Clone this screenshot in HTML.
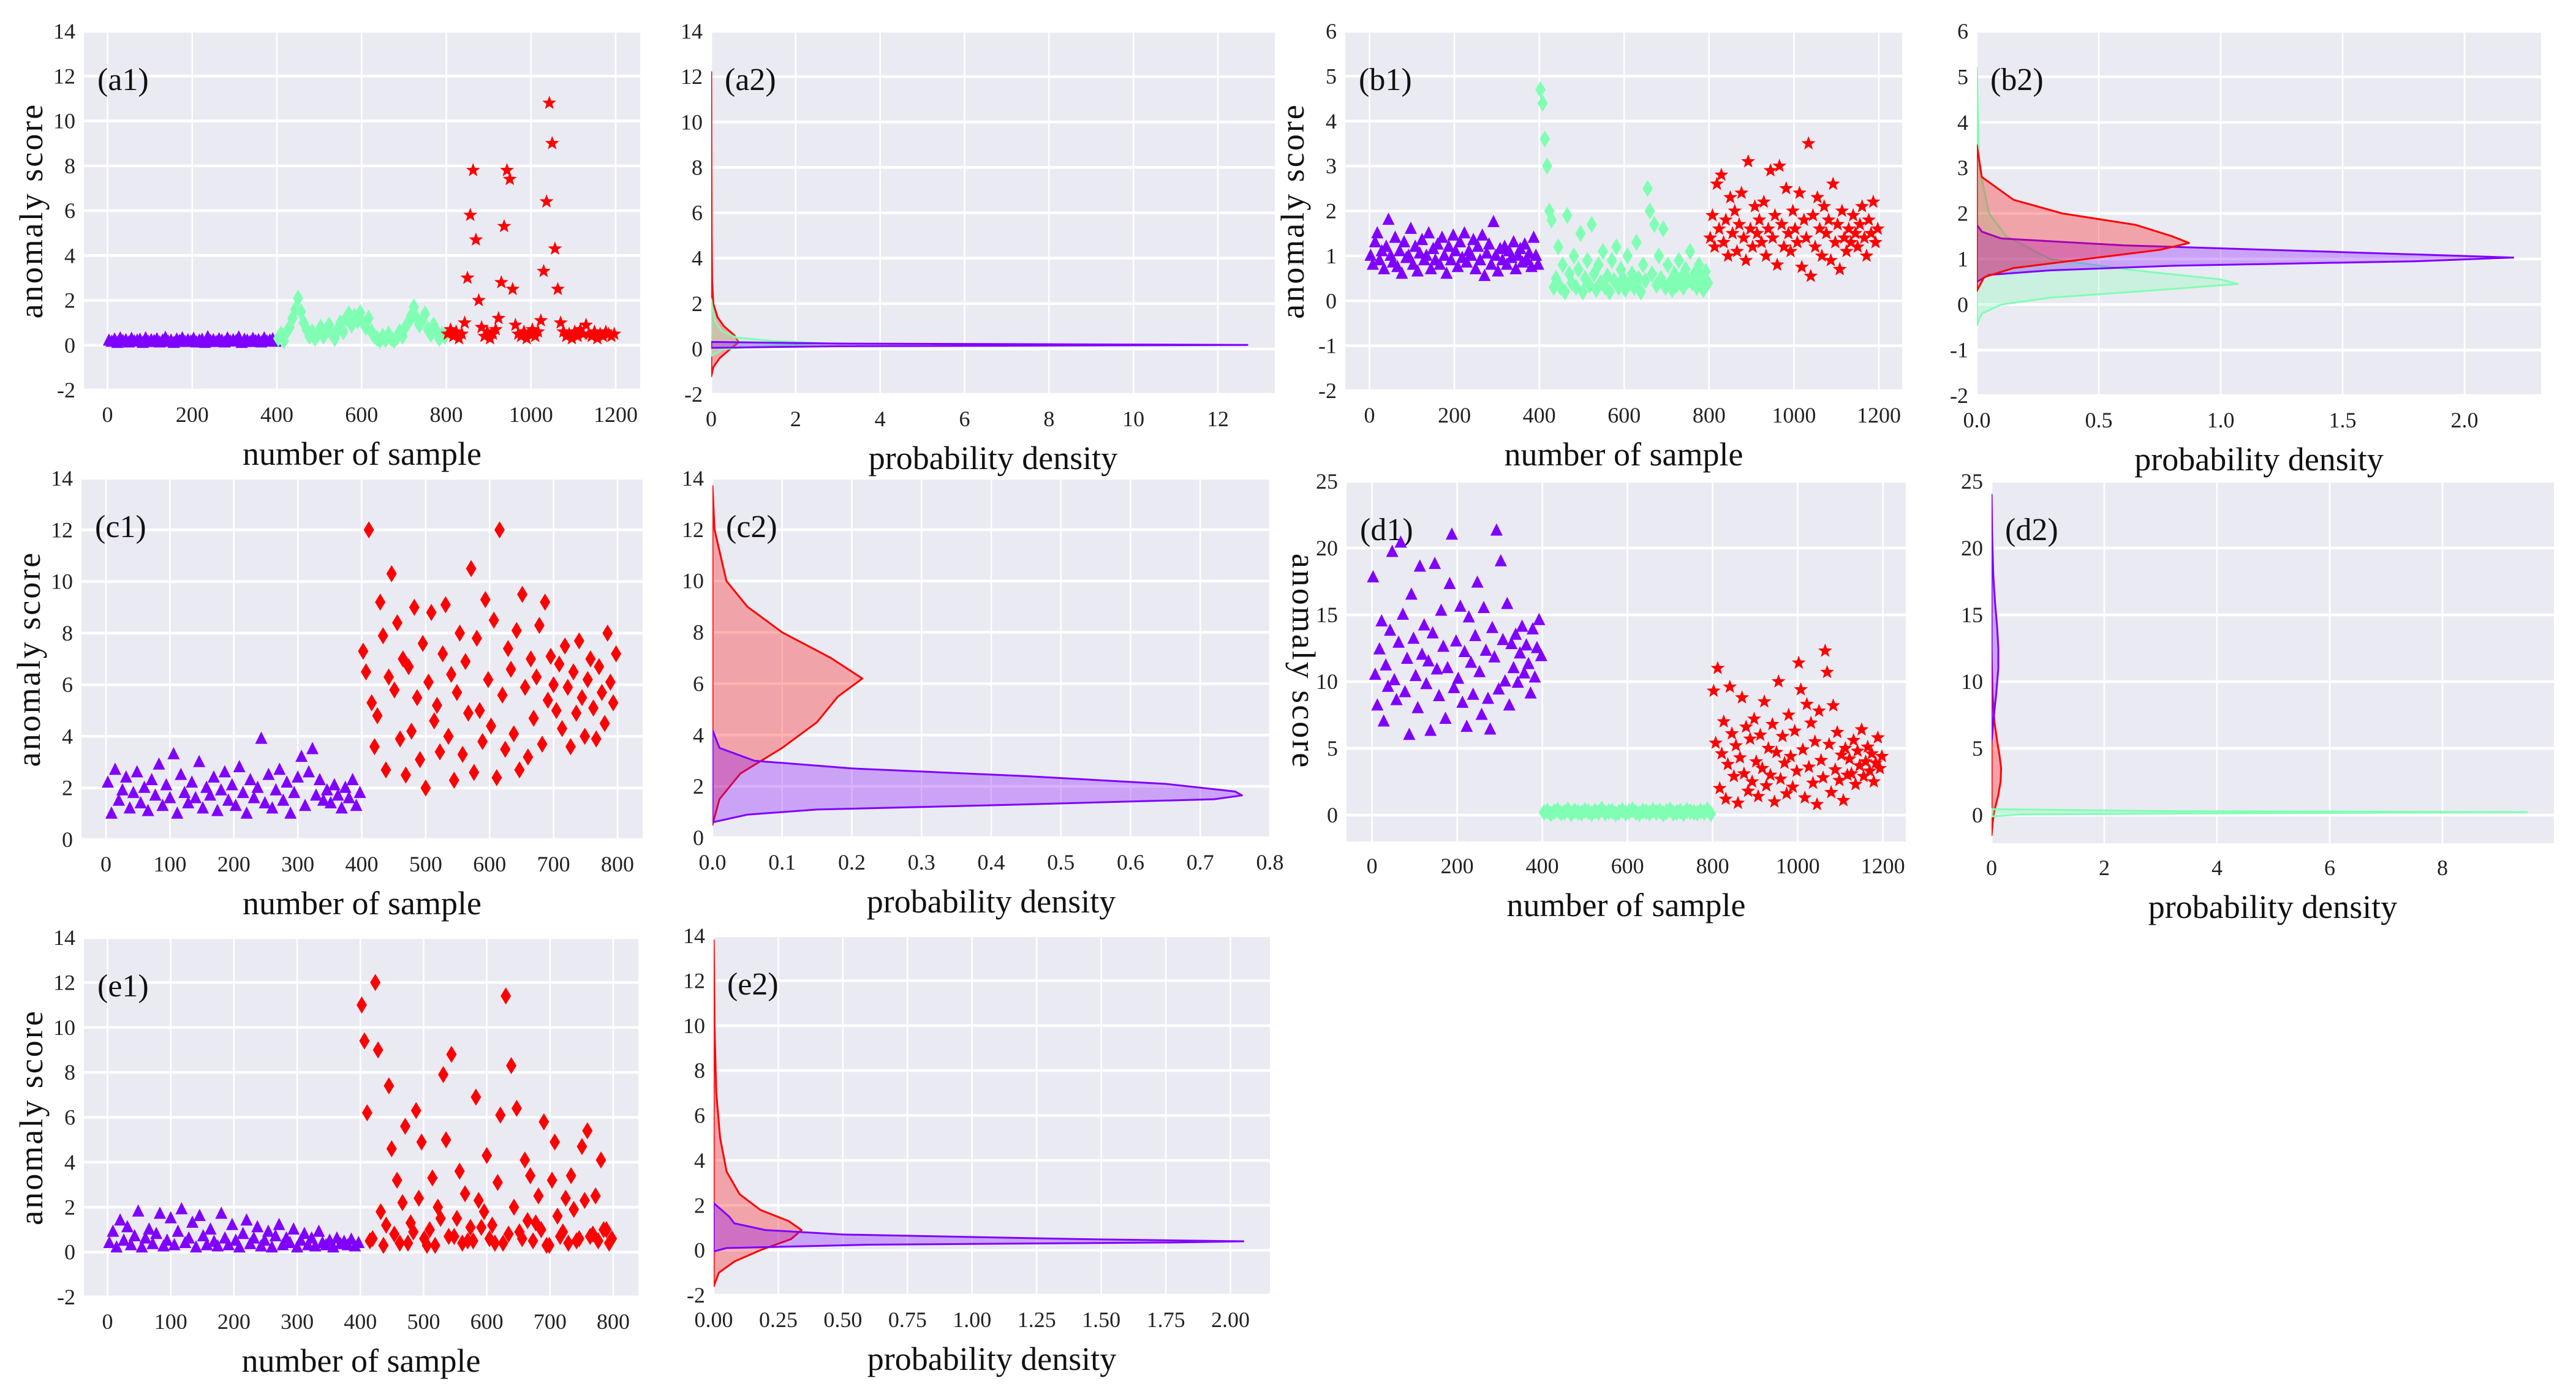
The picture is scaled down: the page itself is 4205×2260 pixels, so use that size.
<!DOCTYPE html>
<html><head><meta charset="utf-8"><style>
html,body{margin:0;padding:0;background:#fff;}
svg{display:block;font-family:"Liberation Serif",serif;}
</style></head><body>
<svg id="fig" xmlns="http://www.w3.org/2000/svg" width="4205" height="2260" viewBox="0 0 4205 2260"></svg>
<script>
// ---- scatter data (anomaly score per sample group) ----
const a1Purple=[0.2,0.15,0.25,0.1,0.3,0.18,0.22,0.12,0.28,0.16,0.2,0.24,0.1,0.3,0.14,0.22,0.18,0.26,0.12,0.2,0.32,0.15,0.2,0.1,0.25,0.18,0.3,0.14,0.22,0.16,0.28,0.12,0.2,0.24,0.1,0.35,0.18,0.22,0.14,0.26,0.2,0.12,0.3,0.16,0.22,0.18,0.34,0.1,0.24,0.2,0.14,0.28,0.18,0.22,0.12,0.3,0.16,0.2,0.26,0.15];
const a1Green=[0.3,0.5,0.2,0.6,0.8,1.2,1.6,2.1,1.5,1.0,0.7,0.4,0.6,0.3,0.5,0.8,0.4,0.6,0.9,0.5,0.3,0.7,1.0,0.6,1.2,1.4,0.9,1.3,1.1,1.45,1.0,0.8,1.2,0.6,0.4,0.3,0.2,0.4,0.25,0.5,0.3,0.2,0.35,0.6,0.4,0.8,1.0,1.3,1.7,1.2,0.9,1.1,1.4,0.7,0.5,0.9,0.6,0.3,0.5,0.4];
const a1Red=[0.5,0.7,0.4,0.6,0.3,0.5,1.0,3.0,5.8,7.8,4.7,2.0,0.8,0.4,0.6,0.3,0.5,0.7,1.2,2.8,5.3,7.8,7.4,2.5,0.9,0.5,0.4,0.6,0.3,0.5,0.7,0.4,0.6,1.1,3.3,6.4,10.8,9.0,4.3,2.5,1.0,0.6,0.4,0.5,0.3,0.6,0.4,0.7,0.5,0.9,0.5,0.4,0.6,0.3,0.5,0.4,0.6,0.5,0.4,0.5];
const b1Purple=[1.0,0.8,1.3,1.5,0.9,1.1,0.7,1.2,1.8,1.0,0.85,1.4,0.75,1.1,0.6,1.3,0.95,1.0,1.6,0.8,1.2,0.65,1.05,1.35,0.9,1.0,1.5,0.7,1.15,0.9,1.25,0.8,1.4,1.0,0.6,1.2,0.9,1.45,1.1,0.75,1.3,0.95,1.5,0.85,1.1,1.0,1.35,0.7,1.2,0.9,1.45,0.55,1.05,1.25,0.8,1.75,1.0,0.65,1.15,0.9,1.2,0.8,1.1,0.95,1.3,0.7,1.0,1.15,0.85,1.25,0.9,1.05,0.75,1.4,1.0,0.8];
const b1Green=[4.7,4.4,3.6,3.0,2.0,1.8,0.3,0.5,1.2,0.3,0.8,0.2,1.9,0.6,0.4,1.0,0.3,0.7,1.5,0.2,0.5,0.9,0.35,1.7,0.6,0.25,0.8,0.4,1.1,0.3,0.55,0.2,0.9,0.45,1.2,0.3,0.7,0.5,0.25,1.0,0.4,0.6,0.3,1.3,0.5,0.2,0.8,0.45,2.5,2.0,0.6,1.7,0.35,1.0,0.5,1.6,0.3,0.8,0.4,0.25,0.6,0.35,0.9,0.5,0.3,0.7,0.45,1.1,0.4,0.6,0.3,0.8,0.5,0.25,0.65,0.4];
const b1Red=[1.4,1.9,1.2,2.6,1.6,2.8,1.3,1.8,1.0,2.3,1.5,2.0,1.1,1.7,2.4,1.4,0.9,3.1,1.6,1.2,2.1,1.5,1.8,1.3,2.2,1.0,1.6,2.9,1.4,1.9,0.8,3.0,1.7,1.2,2.5,1.5,1.1,2.0,1.6,1.3,2.4,0.75,1.8,1.4,3.5,0.55,1.9,1.2,2.3,1.6,1.0,2.1,1.5,1.8,0.9,2.6,1.3,1.7,0.7,2.0,1.4,1.1,1.6,1.3,1.9,1.5,1.2,1.7,2.1,1.4,1.0,1.8,1.5,2.2,1.3,1.6];
const c1Purple=[2.2,1.0,2.7,1.5,1.9,2.4,1.2,1.8,2.6,1.4,2.0,1.1,2.3,1.7,2.9,1.3,2.1,1.6,3.3,1.0,2.5,1.8,1.4,2.2,1.6,3.0,1.2,2.0,1.7,2.4,1.1,1.9,2.6,1.5,2.1,1.3,2.8,1.8,1.0,2.3,1.6,2.0,3.9,1.4,2.5,1.2,1.9,2.7,1.5,2.2,1.0,1.8,2.4,3.2,1.3,2.6,3.5,1.7,2.3,1.5,1.9,1.4,2.1,1.7,1.2,2.0,1.6,2.3,1.3,1.8];
const c1Red=[7.3,6.5,12.0,5.3,3.6,4.8,9.2,7.9,2.7,6.3,10.3,5.8,8.4,3.9,7.0,2.5,6.7,4.2,9.0,5.5,3.1,7.6,2.0,6.1,8.8,4.6,5.2,3.4,7.2,9.1,4.0,6.4,2.3,5.7,8.0,3.3,6.9,4.9,10.5,2.6,7.8,5.0,3.8,9.3,6.2,4.4,8.5,2.4,12.0,5.6,3.5,7.4,6.6,4.1,8.1,2.7,9.5,5.9,3.2,7.0,4.7,6.3,8.3,3.7,9.2,5.4,7.1,6.0,5.0,6.8,4.3,7.5,5.9,3.6,6.5,4.9,7.7,5.5,4.0,6.2,7.0,5.1,3.9,6.7,5.7,4.5,8.0,6.1,5.3,7.2];
const d1Purple=[17.8,10.5,8.2,12.4,14.5,7.0,11.2,9.6,13.8,19.7,10.1,8.6,12.9,20.4,15.0,9.2,11.7,6.0,16.5,13.2,10.4,8.0,18.6,12.0,14.2,9.8,11.5,6.3,13.6,18.8,10.9,8.9,15.3,12.6,7.2,11.0,17.3,21.0,9.5,13.0,10.2,15.6,8.4,12.2,6.6,14.8,11.4,9.0,13.4,17.4,10.7,7.5,15.5,12.3,8.7,6.4,14.0,11.8,21.3,9.4,19.0,13.1,10.0,15.8,8.2,12.8,11.0,13.5,9.9,12.1,14.1,10.6,12.7,11.3,9.1,13.9,10.3,12.5,14.6,11.9];
const d1Green=[0.2,0.3,0.1,0.25,0.35,0.15,0.2,0.4,0.1,0.3,0.2,0.15,0.35,0.25,0.1,0.3,0.2,0.45,0.15,0.25,0.3,0.1,0.2,0.35,0.15,0.25,0.4,0.2,0.1,0.3,0.25,0.15,0.35,0.2,0.3,0.1,0.25,0.4,0.15,0.2,0.3,0.1,0.35,0.25,0.2,0.15,0.3,0.2,0.4,0.1];
const d1Red=[9.3,5.4,11.0,2.0,4.6,7.0,1.2,3.8,9.6,6.1,2.9,5.2,0.9,4.3,8.8,3.1,6.6,1.8,5.7,2.5,7.2,4.0,1.4,6.0,3.5,8.5,2.2,5.0,3.0,6.8,1.0,4.7,10.0,2.7,5.9,3.9,1.6,7.5,4.4,2.1,6.3,3.3,11.4,9.4,4.9,1.3,8.3,3.6,6.9,2.4,5.5,0.8,7.8,4.1,2.8,12.3,10.7,5.3,1.7,8.2,3.4,6.2,2.6,4.5,1.1,5.0,3.0,4.2,3.1,5.6,2.3,4.8,3.7,6.4,2.9,4.0,5.1,3.3,4.6,2.5,3.9,5.8,3.5,4.4];
const e1Purple=[0.4,0.9,0.2,1.4,0.5,1.1,0.3,0.7,1.8,0.2,0.6,1.0,0.35,0.8,1.7,0.25,0.5,1.5,0.3,0.9,1.9,0.4,0.6,1.3,0.2,1.6,0.7,0.3,1.0,0.45,0.25,1.7,0.6,0.3,1.2,0.5,0.2,0.8,1.4,0.35,0.6,1.1,0.25,0.5,0.9,0.2,0.7,1.2,0.3,0.6,0.4,1.0,0.2,0.5,0.8,0.3,0.6,0.25,0.9,0.4,0.3,0.5,0.2,0.6,0.35,0.45,0.3,0.55,0.25,0.4];
const e1Red=[11.0,9.4,6.2,0.5,0.6,12.0,9.0,1.8,0.3,1.2,7.4,4.6,0.8,3.2,0.4,2.2,5.6,0.4,1.3,0.9,6.3,2.4,4.9,0.6,0.3,1.0,3.3,0.3,2.0,1.5,7.9,5.0,0.7,8.8,0.7,1.5,3.6,0.4,2.6,0.5,1.1,0.5,6.9,2.3,1.1,1.8,4.3,0.6,1.2,0.4,3.1,6.1,0.4,11.4,0.8,8.3,2.0,6.4,0.9,0.6,4.1,1.4,3.4,0.5,1.3,2.5,1.0,5.8,0.3,0.3,3.2,4.9,1.6,0.7,0.9,2.4,0.4,3.4,1.9,0.5,0.6,4.7,2.3,5.4,0.7,0.8,2.5,0.5,4.1,1.0,1.0,0.4,0.6];
// ---- density (KDE) data: score levels and densities ----
const a2RedY=[-1.2,-0.8,-0.4,0,0.3,0.6,1.0,1.4,2,3,5,8,12.2];
const a2RedD=[0,0.05,0.2,0.45,0.65,0.55,0.3,0.15,0.05,0.02,0.01,0.005,0];
const a2GreenY=[-0.3,0.0,0.15,0.25,0.35,0.5,0.8,1.2,1.8,2.2];
const a2GreenD=[0,0.3,1.5,2.7,1.5,0.6,0.25,0.1,0.03,0];
const a2PurpleY=[0.05,0.12,0.18,0.24,0.31];
const a2PurpleD=[0,3,12.7,3,0];
const b2RedY=[0.3,0.6,0.8,1.0,1.2,1.35,1.5,1.75,2.0,2.3,2.8,3.5];
const b2RedD=[0,0.03,0.15,0.45,0.75,0.87,0.8,0.65,0.35,0.15,0.02,0];
const b2PurpleY=[0.5,0.65,0.75,0.85,0.95,1.03,1.15,1.3,1.45,1.6,1.75];
const b2PurpleD=[0,0.05,0.3,0.8,1.8,2.2,1.5,0.6,0.1,0.02,0];
const b2GreenY=[-0.45,-0.2,0,0.15,0.3,0.45,0.55,0.75,1.0,1.5,2,3,5.2];
const b2GreenD=[0,0.02,0.1,0.3,0.7,1.07,1.0,0.65,0.3,0.12,0.05,0.01,0];
const c2RedY=[0.5,1.5,2.5,3.5,4.5,5.5,6.2,7,8,9,10,12,13.7];
const c2RedD=[0,0.01,0.04,0.1,0.15,0.18,0.215,0.17,0.1,0.05,0.02,0.003,0];
const c2PurpleY=[0.6,0.9,1.1,1.3,1.5,1.65,1.8,2.1,2.4,2.7,3.0,3.5,4.2];
const c2PurpleD=[0,0.05,0.15,0.45,0.72,0.76,0.75,0.65,0.45,0.2,0.06,0.01,0];
const d2PurpleY=[5.5,7,9,11,12.5,14,16,18,21,24];
const d2PurpleD=[0,0.03,0.08,0.12,0.12,0.1,0.06,0.03,0.01,0];
const d2RedY=[-1.5,-0.5,0.5,1.5,2.5,3.5,4.5,5.5,7,9,11,12.5];
const d2RedD=[0,0.02,0.06,0.12,0.16,0.17,0.14,0.1,0.05,0.02,0.005,0];
const d2GreenY=[-0.1,0.05,0.15,0.22,0.3,0.45];
const d2GreenD=[0,0.5,5,9.5,3,0];
const e2RedY=[-1.6,-1,-0.5,0,0.5,0.9,1.3,1.8,2.5,3.5,5,7,10,13.8];
const e2RedD=[0,0.02,0.08,0.18,0.3,0.34,0.29,0.18,0.1,0.05,0.025,0.01,0.003,0];
const e2PurpleY=[-0.05,0.1,0.25,0.35,0.4,0.5,0.7,0.9,1.2,1.5,1.8,2.1];
const e2PurpleD=[0,0.05,0.6,1.8,2.05,1.4,0.5,0.2,0.08,0.06,0.03,0];
// ---- tick labels ----
const ticksY14=[-2,0,2,4,6,8,10,12,14];
const ticksY6=[-2,-1,0,1,2,3,4,5,6];
const ticksY14c=[0,2,4,6,8,10,12,14];
const ticksY25=[0,5,10,15,20,25];
const ticksX1200=[0,200,400,600,800,1000,1200];
const ticksX800=[0,100,200,300,400,500,600,700,800];
const ticksA2=[0,2,4,6,8,10,12];
const ticksB2=["0.0","0.5","1.0","1.5","2.0"];
const ticksC2=["0.0","0.1","0.2","0.3","0.4","0.5","0.6","0.7","0.8"];
const ticksD2=[0,2,4,6,8];
const ticksE2=["0.00","0.25","0.50","0.75","1.00","1.25","1.50","1.75","2.00"];

const NS="http://www.w3.org/2000/svg";
const svg=document.getElementById('fig');
const PURPLE="#8000ff",GREEN="#80ffb4",RED="#ff0000";
function mk(tag,attrs,parent){const e=document.createElementNS(NS,tag);for(const k in attrs)e.setAttribute(k,attrs[k]);(parent||svg).appendChild(e);return e;}
function lin(v0,p0,v1,p1){return v=>p0+(v-v0)*(p1-p0)/(v1-v0);}

function panel(name,box,xs,ys,xticks,yticks,label,xtitle,ytitleSide){
  const g=mk('g',{});
  
  
  const [L,T,R,B]=box;
  const X=lin(xs[0],xs[1],xs[2],xs[3]), Y=lin(ys[0],ys[1],ys[2],ys[3]);
  const bg=mk('rect',{x:L,y:T,width:R-L,height:B-T,fill:'#eaeaf2'},g);
  
  
  xticks.forEach(t=>{const v=parseFloat(t);const px=X(v);
    const gl=mk('line',{x1:px,x2:px,y1:T,y2:B,stroke:'#fff','stroke-width':2.5},g);
    
    
    const tx=mk('text',{x:px,y:B+52,'font-size':36,'text-anchor':'middle',fill:'#222'},g);tx.textContent=t;
    
    });
  yticks.forEach(t=>{const py=Y(t);
    const gl=mk('line',{x1:L,x2:R,y1:py,y2:py,stroke:'#fff','stroke-width':4.5},g);
    
    
    const tx=mk('text',{x:L-14,y:py+12,'font-size':36,'text-anchor':'end',fill:'#222'},g);tx.textContent=t;
    
    });
  const lb=mk('text',{x:L+22,y:T+96,'font-size':52,fill:'#111'},g);lb.textContent=label;
  
  
  const xt=mk('text',{x:(L+R)/2,y:B+122,'font-size':54,'text-anchor':'middle',fill:'#111'},g);xt.textContent=xtitle;
  
  
  if(ytitleSide){
    const cx=L-(ytitleSide==='down'?72:84), cy=(T+B)/2;
    const yt=mk('text',{x:cx,y:cy,'font-size':54,'text-anchor':'middle',fill:'#111','letter-spacing':3,
      transform:(ytitleSide==='down'?`rotate(90 ${cx} ${cy}) translate(0 16)`:`rotate(-90 ${cx} ${cy}) translate(0 16)`)},g);
    yt.textContent='anomaly score';
    
    
  }
  const clip=mk('clipPath',{id:name+'-clip'},g);mk('rect',{x:L,y:T,width:R-L,height:B-T},clip);
  const marks=mk('g',{'clip-path':`url(#${name}-clip)`},g);
  return {X,Y,g:marks};
}
function marker(p,shape,cx,cy,color){
  let e;
  if(shape==='tri'){e=mk('polygon',{points:`${cx},${cy-12} ${cx-10},${cy+8} ${cx+10},${cy+8}`,fill:color},p.g);}
  else if(shape==='dia'){e=mk('polygon',{points:`${cx},${cy-14} ${cx+8.5},${cy} ${cx},${cy+14} ${cx-8.5},${cy}`,fill:color},p.g);}
  else {let pts=[];for(let k=0;k<10;k++){const r=k%2?5:12,a=-Math.PI/2+k*Math.PI/5;pts.push((cx+r*Math.cos(a)).toFixed(1)+','+(cy+r*Math.sin(a)).toFixed(1));}
    e=mk('polygon',{points:pts.join(' '),fill:color},p.g);}
  return e;
}
function scatter(p,vals,start,span,shape,color,nm){
  vals.forEach((v,i)=>{const s=start+(i+0.5)*span/vals.length;
    const e=marker(p,shape,p.X(s),p.Y(v),color);
    
    });
}
function kde(p,ysArr,dArr,color,nm){
  let pts=[`${p.X(0)},${p.Y(ysArr[0])}`];
  ysArr.forEach((y,i)=>pts.push(`${p.X(dArr[i]).toFixed(1)},${p.Y(y).toFixed(1)}`));
  pts.push(`${p.X(0)},${p.Y(ysArr[ysArr.length-1])}`);
  const e=mk('polygon',{points:pts.join(' '),fill:color,'fill-opacity':0.3,stroke:color,'stroke-width':3,'stroke-linejoin':'round'},p.g);
  
  
}

// a1
let p=panel('a1',[137,51,1045,637],[0,175.5,1200,1005],[-2,637,14,51],ticksX1200,ticksY14,'(a1)','number of sample','up');
scatter(p,a1Purple,0,400,'tri',PURPLE,'a1-normal');scatter(p,a1Green,400,400,'dia',GREEN,'a1-group2');scatter(p,a1Red,800,400,'star',RED,'a1-anomaly');
p=panel('a2',[1161,51,2081,644],[0,1161,12,1988],[-2,644,14,51],ticksA2,ticksY14,'(a2)','probability density',null);
kde(p,a2RedY,a2RedD,RED,'a2-red');kde(p,a2GreenY,a2GreenD,GREEN,'a2-green');kde(p,a2PurpleY,a2PurpleD,PURPLE,'a2-purple');
// b
p=panel('b1',[2196,51,3105,638],[0,2235.5,1200,3067],[-2,638,6,51],ticksX1200,ticksY6,'(b1)','number of sample','up');
scatter(p,b1Purple,0,400,'tri',PURPLE,'b1-normal');scatter(p,b1Green,400,400,'dia',GREEN,'b1-group2');scatter(p,b1Red,800,400,'star',RED,'b1-anomaly');
p=panel('b2',[3227,51,4148,646],[0,3227,2,4023],[-2,646,6,51],ticksB2,ticksY6,'(b2)','probability density',null);
kde(p,b2GreenY,b2GreenD,GREEN,'b2-green');kde(p,b2PurpleY,b2PurpleD,PURPLE,'b2-purple');kde(p,b2RedY,b2RedD,RED,'b2-red');
// c
p=panel('c1',[133,781,1049,1371],[0,173,800,1008],[0,1371,14,781],ticksX800,ticksY14c,'(c1)','number of sample','up');
scatter(p,c1Purple,0,400,'tri',PURPLE,'c1-normal');scatter(p,c1Red,400,400,'dia',RED,'c1-anomaly');
p=panel('c2',[1163,781,2073,1368],[0,1163,0.8,2073],[0,1368,14,781],ticksC2,ticksY14c,'(c2)','probability density',null);
kde(p,c2RedY,c2RedD,RED,'c2-red');kde(p,c2PurpleY,c2PurpleD,PURPLE,'c2-purple');
// d
p=panel('d1',[2198,786,3111,1374],[0,2239.6,1200,3073.6],[0,1331,20,895],ticksX1200,ticksY25,'(d1)','number of sample','down');
scatter(p,d1Purple,0,400,'tri',PURPLE,'d1-normal');scatter(p,d1Green,400,400,'dia',GREEN,'d1-group2');scatter(p,d1Red,800,400,'star',RED,'d1-anomaly');
p=panel('d2',[3251,786,4169,1377],[0,3251,8,3987],[0,1331,20,895],ticksD2,ticksY25,'(d2)','probability density',null);
kde(p,d2RedY,d2RedD,RED,'d2-red');kde(p,d2PurpleY,d2PurpleD,PURPLE,'d2-purple');kde(p,d2GreenY,d2GreenD,GREEN,'d2-green');
// e
p=panel('e1',[137,1531,1042,2118],[0,175.5,800,1001],[-2,2118,14,1531],ticksX800,ticksY14,'(e1)','number of sample','up');
scatter(p,e1Purple,0,400,'tri',PURPLE,'e1-normal');scatter(p,e1Red,400,400,'dia',RED,'e1-anomaly');
p=panel('e2',[1165,1528,2073,2115],[0,1165,2,2008.5],[-2,2115,14,1528],ticksE2,ticksY14,'(e2)','probability density',null);
kde(p,e2RedY,e2RedD,RED,'e2-red');kde(p,e2PurpleY,e2PurpleD,PURPLE,'e2-purple');
</script>
</body></html>
